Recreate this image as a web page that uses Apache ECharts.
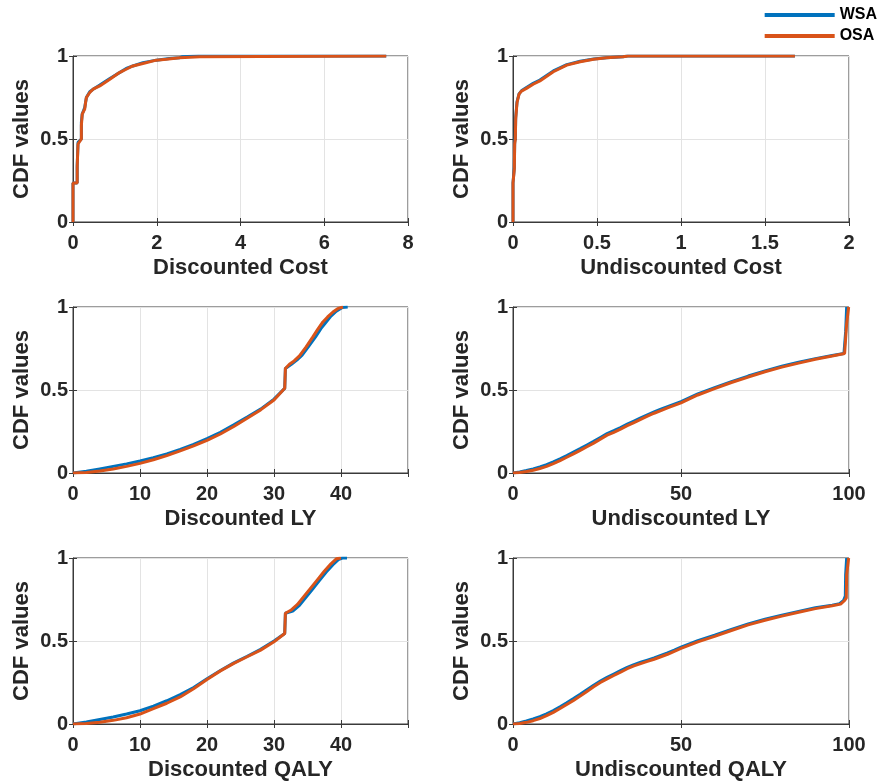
<!DOCTYPE html>
<html>
<head>
<meta charset="utf-8">
<script src="https://cdn.jsdelivr.net/npm/echarts@6/dist/echarts.min.js"></script>
<style>
html,body{margin:0;padding:0;background:#fff;}
#chart{width:883px;height:782px;}
</style>
</head>
<body>
<div id="chart"></div>
<script>
// ---- data ([x, CDF]) ----
const seriesNames = ['WSA', 'OSA'];
const panelTitles = ['Discounted Cost', 'Undiscounted Cost', 'Discounted LY', 'Undiscounted LY', 'Discounted QALY', 'Undiscounted QALY'];
const yTickValues = [0, 0.5, 1];

const discCostWSA = [[0,0],[0,0.235],[0.1,0.235],[0.1,0.34],[0.12,0.34],[0.12,0.48],[0.2,0.5],[0.2,0.6],[0.22,0.65],[0.28,0.69],[0.32,0.75],[0.4,0.785],[0.48,0.8],[0.64,0.825],[0.88,0.865],[1.11,0.9],[1.27,0.925],[1.43,0.94],[1.67,0.96],[1.99,0.975],[2.3,0.985],[2.55,0.99],[2.6,0.995],[3.0,1.0],[7.48,1.0]];
const discCostOSA = [[0,0],[0,0.235],[0.1,0.235],[0.1,0.33],[0.12,0.33],[0.12,0.47],[0.15,0.48],[0.2,0.5],[0.2,0.58],[0.22,0.65],[0.28,0.68],[0.3,0.72],[0.32,0.75],[0.4,0.78],[0.48,0.8],[0.64,0.82],[0.88,0.86],[1.11,0.9],[1.27,0.92],[1.43,0.94],[1.67,0.955],[1.99,0.975],[2.23,0.98],[2.55,0.99],[3.03,0.995],[3.03,1.0],[7.48,1.0]];

const undiscCostWSA = [[0,0],[0,0.236],[0.005,0.245],[0.008,0.33],[0.01,0.48],[0.014,0.51],[0.016,0.63],[0.024,0.725],[0.036,0.772],[0.05,0.79],[0.08,0.81],[0.12,0.835],[0.16,0.855],[0.24,0.91],[0.32,0.948],[0.40,0.968],[0.48,0.982],[0.556,0.99],[0.655,0.996],[0.68,1.0],[1.678,1.0]];
const undiscCostOSA = [[0,0],[0,0.236],[0.005,0.24],[0.008,0.32],[0.01,0.47],[0.014,0.5],[0.016,0.62],[0.024,0.72],[0.036,0.77],[0.05,0.788],[0.08,0.805],[0.12,0.83],[0.16,0.85],[0.24,0.905],[0.32,0.945],[0.40,0.965],[0.48,0.98],[0.556,0.99],[0.655,0.995],[0.685,1.0],[1.678,1.0]];

const discLYWSA = [[0,0],[2,0.01],[4,0.025],[6,0.04],[8,0.055],[10,0.072],[12,0.092],[14,0.115],[16,0.142],[18,0.172],[20,0.207],[22,0.245],[24,0.29],[26,0.337],[28,0.385],[30,0.445],[31.6,0.51],[31.7,0.63],[32.6,0.655],[33.4,0.68],[34.2,0.71],[35.2,0.765],[36.2,0.82],[37,0.87],[37.7,0.905],[38.5,0.945],[39.3,0.975],[40.2,0.997],[41,1.0]];
const discLYOSA = [[0,0],[2,0.003],[4,0.012],[6,0.024],[8,0.04],[10,0.058],[12,0.08],[14,0.105],[16,0.133],[18,0.163],[20,0.196],[22,0.235],[24,0.28],[26,0.33],[28,0.38],[30,0.44],[31.6,0.51],[31.7,0.63],[32.3,0.655],[33,0.675],[33.8,0.705],[34.8,0.76],[35.8,0.82],[36.6,0.87],[37.3,0.91],[38,0.94],[38.8,0.97],[39.5,0.99],[40.3,1.0]];

const undiscLYWSA = [[0,0],[2,0.006],[4,0.015],[6,0.025],[8,0.037],[10,0.05],[12,0.067],[14,0.085],[16,0.105],[18,0.126],[20,0.147],[22,0.169],[24,0.191],[26,0.214],[28,0.237],[30,0.255],[32,0.274],[34,0.294],[36,0.313],[38,0.332],[40,0.35],[42,0.368],[44,0.385],[46,0.4],[48,0.415],[50,0.43],[55,0.476],[60,0.514],[65,0.55],[70,0.584],[75,0.615],[80,0.643],[85,0.667],[90,0.689],[95,0.708],[98.5,0.72],[98.9,0.73],[99.0,0.85],[99.3,1.0]];
const undiscLYOSA = [[0,0],[2,0.003],[4,0.009],[6,0.017],[8,0.027],[10,0.04],[12,0.057],[14,0.075],[16,0.095],[18,0.115],[20,0.136],[22,0.158],[24,0.18],[26,0.204],[28,0.228],[30,0.245],[32,0.264],[34,0.285],[36,0.304],[38,0.323],[40,0.342],[42,0.36],[44,0.376],[46,0.392],[48,0.407],[50,0.422],[55,0.47],[60,0.508],[65,0.545],[70,0.578],[75,0.61],[80,0.638],[85,0.662],[90,0.685],[95,0.705],[98.7,0.72],[99.2,0.725],[99.3,0.9],[99.9,1.0]];

const discQALYWSA = [[0,0],[2,0.012],[4,0.027],[6,0.042],[8,0.06],[10,0.08],[12,0.108],[14,0.14],[16,0.177],[18,0.22],[20,0.272],[22,0.322],[24,0.368],[26,0.408],[28,0.45],[30,0.5],[31.6,0.545],[31.7,0.667],[32.8,0.68],[33.8,0.715],[34.8,0.765],[35.8,0.815],[36.8,0.865],[37.8,0.915],[38.8,0.96],[39.6,0.99],[40.2,1.0],[40.9,1.0]];
const discQALYOSA = [[0,0],[2,0.003],[4,0.01],[6,0.022],[8,0.038],[10,0.06],[12,0.092],[14,0.125],[16,0.163],[18,0.212],[20,0.268],[22,0.32],[24,0.365],[26,0.405],[28,0.445],[30,0.495],[31.6,0.545],[31.7,0.667],[32.5,0.685],[33.5,0.72],[34.5,0.77],[35.5,0.82],[36.5,0.87],[37.5,0.92],[38.5,0.965],[39.3,0.995],[40,1.0]];

const undiscQALYWSA = [[0,0],[2,0.008],[4,0.018],[6,0.03],[8,0.044],[10,0.061],[12,0.081],[14,0.104],[16,0.128],[18,0.153],[20,0.179],[22,0.207],[24,0.234],[26,0.259],[28,0.281],[30,0.301],[32,0.321],[34,0.341],[36,0.358],[38,0.372],[40,0.385],[42,0.398],[44,0.413],[46,0.428],[48,0.445],[50,0.463],[55,0.502],[60,0.535],[65,0.569],[70,0.603],[75,0.631],[80,0.656],[85,0.678],[90,0.7],[95,0.716],[97.2,0.725],[98.4,0.745],[98.9,0.77],[99.0,0.9],[99.3,1.0]];
const undiscQALYOSA = [[0,0],[2,0.003],[4,0.01],[6,0.02],[8,0.033],[10,0.05],[12,0.07],[14,0.093],[16,0.117],[18,0.142],[20,0.168],[22,0.196],[24,0.224],[26,0.25],[28,0.272],[30,0.292],[32,0.312],[34,0.333],[36,0.35],[38,0.364],[40,0.377],[42,0.39],[44,0.405],[46,0.42],[48,0.437],[50,0.455],[55,0.495],[60,0.528],[65,0.563],[70,0.597],[75,0.625],[80,0.65],[85,0.673],[90,0.695],[95,0.712],[97.5,0.722],[98.7,0.744],[99.2,0.76],[99.3,0.9],[99.9,1.0]];

const panelData = [
  [discCostWSA, discCostOSA],
  [undiscCostWSA, undiscCostOSA],
  [discLYWSA, discLYOSA],
  [undiscLYWSA, undiscLYOSA],
  [discQALYWSA, discQALYOSA],
  [undiscQALYWSA, undiscQALYOSA]
];
const xMax = [8, 2, 50, 100, 50, 100];
const xInterval = [2, 0.5, 10, 50, 10, 50];
const xHideMax = [false, false, true, false, true, false];

// ---- layout / style ----
const colors = ['#0072BD', '#D95319'];
const FONT = 'Liberation Sans';
const TXT = '#262626';
const AX = '#3a3a3a';
const lefts = [73, 513];
const widths = [335, 336];
const tops = [56, 307, 558];
const H = 166;

const grids = [], xAxes = [], yAxes = [], series = [];
for (let i = 0; i < 6; i++) {
  const c = i % 2, r = Math.floor(i / 2);
  grids.push({left: lefts[c], top: tops[r], width: widths[c], height: H,
    show: true, borderColor: AX, borderWidth: 1, backgroundColor: '#fff'});
  xAxes.push({
    type: 'value', gridIndex: i, min: 0, max: xMax[i], interval: xInterval[i],
    name: panelTitles[i], nameLocation: 'middle', nameGap: 35,
    nameTextStyle: {fontFamily: FONT, fontWeight: 'bold', fontSize: 22, color: TXT},
    axisLine: {show: true, onZero: false, lineStyle: {color: AX, width: 1}},
    axisTick: {show: true, inside: true, length: 4, lineStyle: {color: AX}},
    axisLabel: {fontFamily: FONT, fontWeight: 'bold', fontSize: 20, color: TXT, margin: 11,
      formatter: (v) => (xHideMax[i] && v === xMax[i]) ? '' : String(v)},
    splitLine: {show: true, lineStyle: {color: '#e3e3e3', width: 1}}
  });
  yAxes.push({
    type: 'value', gridIndex: i, min: yTickValues[0], max: yTickValues[2], interval: yTickValues[1] - yTickValues[0],
    name: 'CDF values', nameLocation: 'middle', nameGap: 40,
    nameTextStyle: {fontFamily: FONT, fontWeight: 'bold', fontSize: 22, color: TXT},
    axisLine: {show: true, lineStyle: {color: AX, width: 1}},
    axisTick: {show: true, inside: true, length: 4, lineStyle: {color: AX}},
    axisLabel: {fontFamily: FONT, fontWeight: 'bold', fontSize: 20, color: TXT, margin: 5},
    splitLine: {show: true, lineStyle: {color: '#e3e3e3', width: 1}}
  });
  for (let s = 0; s < 2; s++) {
    series.push({
      type: 'line', name: seriesNames[s], xAxisIndex: i, yAxisIndex: i,
      data: panelData[i][s], showSymbol: false, symbol: 'none', animation: false,
      lineStyle: {color: colors[s], width: 3}, itemStyle: {color: colors[s]}, z: 2 + s
    });
  }
}
// mirrored inward ticks on the top and right edges of each box
for (let i = 0; i < 6; i++) {
  xAxes.push({
    type: 'value', gridIndex: i, position: 'top', min: 0, max: xMax[i], interval: xInterval[i],
    axisLine: {show: false}, axisLabel: {show: false}, splitLine: {show: false},
    axisTick: {show: true, inside: true, length: 4, lineStyle: {color: AX}}
  });
  yAxes.push({
    type: 'value', gridIndex: i, position: 'right', min: yTickValues[0], max: yTickValues[2], interval: yTickValues[1] - yTickValues[0],
    axisLine: {show: false}, axisLabel: {show: false}, splitLine: {show: false},
    axisTick: {show: true, inside: true, length: 4, lineStyle: {color: AX}}
  });
}

const chart = echarts.init(document.getElementById('chart'), null, {renderer: 'canvas'});
chart.setOption({
  backgroundColor: '#fff',
  animation: false,
  legend: {
    data: seriesNames, orient: 'vertical', right: 6, top: 7, padding: 0,
    icon: 'rect', itemWidth: 70, itemHeight: 4, itemGap: 5,
    textStyle: {fontFamily: FONT, fontWeight: 'bold', fontSize: 16, color: '#000'}
  },
  grid: grids, xAxis: xAxes, yAxis: yAxes, series: series
});
</script>
</body>
</html>
